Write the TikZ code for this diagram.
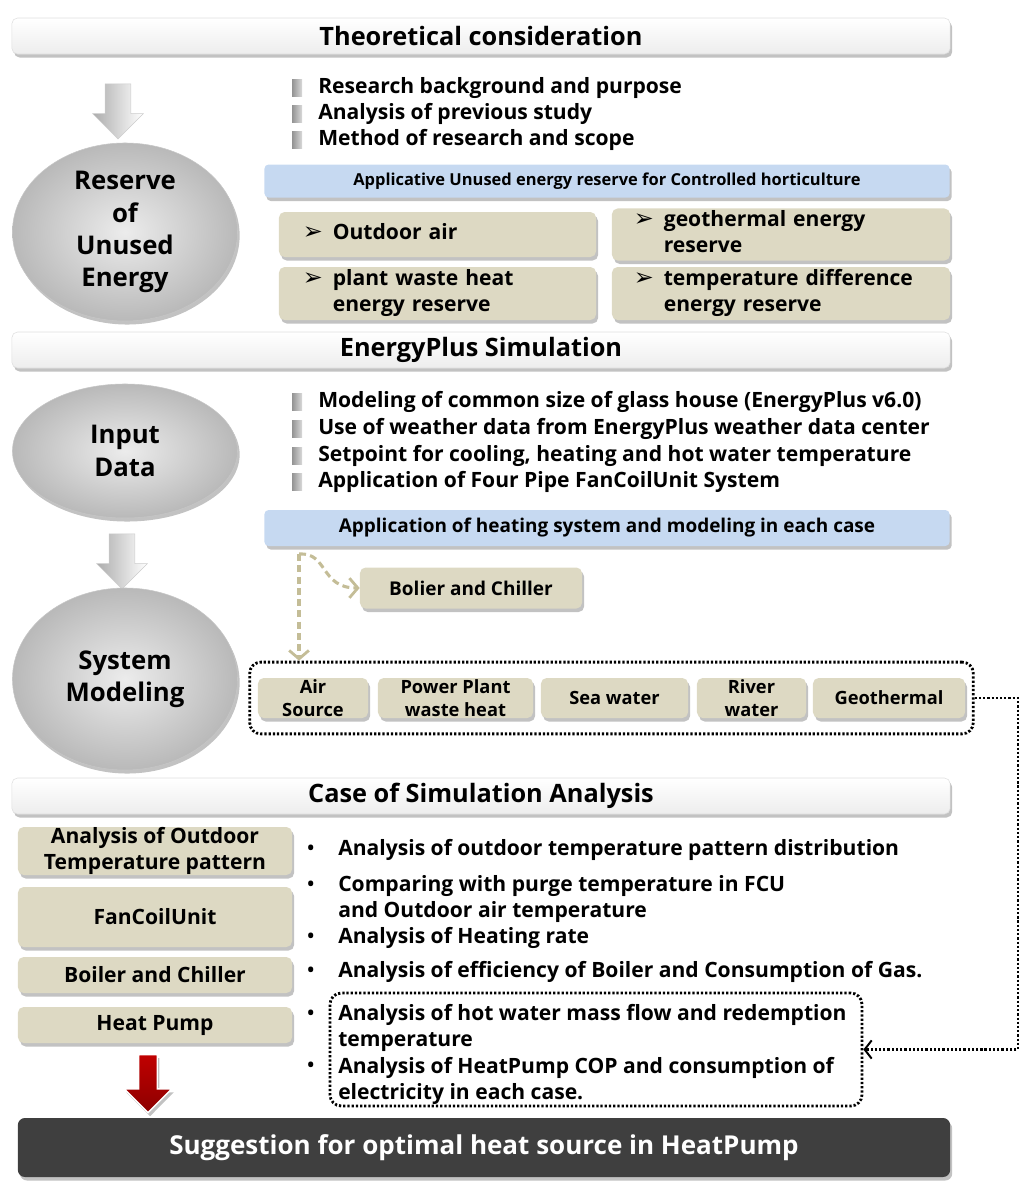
\documentclass[tikz,border=0pt]{standalone}
\usepackage{fontspec}
\setmainfont{Open Sans}
\newfontfamily\symfont{DejaVu Sans}
\usetikzlibrary{shapes.geometric,shapes.arrows,fit,shadows,arrows.meta}
\definecolor{tanfill}{HTML}{DDD9C3}
\definecolor{tanline}{HTML}{C4BD97}
\definecolor{bluefill}{HTML}{C6D9F1}
\definecolor{darkfill}{HTML}{3F3F3F}
\definecolor{arrowred}{HTML}{C00000}
\newcommand{\arritem}[1]{{\symfont\fontsize{17}{18.5}\selectfont\char"27A2}\hspace{7pt}\begin{tabular}[t]{@{}l@{}}#1\end{tabular}}
\tikzset{
	boxshadow/.style={drop shadow={shadow xshift=1.5pt,shadow yshift=-2.5pt,opacity=0.4,fill=black!60}},
	titlebar/.style={rounded corners=4pt,top color=white,bottom color=gray!14,draw=gray!25,boxshadow,
		minimum width=23.45cm,minimum height=0.9cm,inner sep=0pt,font=\fontsize{18}{21}\selectfont\bfseries},
	bluebar/.style={rounded corners=3pt,fill=bluefill,boxshadow,minimum width=17.125cm,inner sep=0pt},
	tanbox/.style={rounded corners=4pt,fill=tanfill,boxshadow,inner sep=0pt,font=\fontsize{15}{18.5}\selectfont\bfseries},
	stage/.style={ellipse,inner color=gray!15,outer color=gray!55,draw=gray!45,boxshadow,minimum width=5.625cm,
		inner sep=0pt,align=center,font=\fontsize{18.3}{22.9}\selectfont\bfseries},
	grayarrow/.style={single arrow,rotate=-90,left color=gray!65,right color=white,draw=gray!40,minimum width=1.25cm,
		minimum height=1.375cm,single arrow head extend=0.3125cm,single arrow head indent=0pt,inner xsep=0pt,inner ysep=0.3125cm},
	sqbullet/.style={rectangle,left color=gray!85,right color=gray!30,minimum width=0.25cm,minimum height=0.42cm,inner sep=0pt},
	itemtext/.style={anchor=west,inner sep=0pt,align=left,font=\fontsize{15}{18.5}\selectfont\bfseries},
	srcbox/.style={tanbox,minimum height=1cm,align=center,font=\fontsize{13}{16.4}\selectfont\bfseries},
	casebox/.style={tanbox,minimum width=6.85cm,align=center,font=\fontsize{15}{18.5}\selectfont\bfseries},
	dotbox/.style={draw,line width=2pt,dash pattern=on 1.6pt off 1.4pt,rounded corners=8pt,inner sep=0pt},
	dotconn/.style={line width=2pt,dash pattern=on 1.6pt off 1.4pt,-{Straight Barb[length=5pt,width=13pt,line width=1.4pt]}},
	tanconn/.style={draw=tanline,line width=2.2pt,dash pattern=on 5pt off 3pt,-{Straight Barb[length=6pt,width=14pt,line width=2pt]}}
}
\begin{document}
\begin{tikzpicture}[x=0.025cm,y=-0.025cm]
		\useasboundingbox (0,0) rectangle (1024,1193);
		%put the title bars
		\node[titlebar] (theory) at (481,36) {Theoretical consideration};
		\node[titlebar] (eplus) at (481,350) {EnergyPlus Simulation};
		\node[titlebar] (casesim) at (481,796) {Case of Simulation Analysis};
		%put the stages on the left
		\node[grayarrow] (arr1) at (118,105) {};
		\node[stage,minimum height=4.45cm] (reserve) at (125,232) {Reserve\\of\\Unused\\Energy};
		\node[stage,minimum height=3.35cm] (input) at (125,451) {Input\\Data};
		\node[grayarrow] (arr2) at (122,555) {};
		\node[stage,minimum height=4.55cm] (sysmod) at (125,679) {System\\Modeling};
		%theoretical items
		\foreach \t[count=\i] in {Research background and purpose,Analysis of previous study,Method of research and scope}{
			\node[sqbullet] (tb\i) at (297,62+26*\i) {};
			\node[itemtext] (tt\i) at (318,62+26*\i) {\t};
		}
		\node[bluebar,minimum height=0.825cm,font=\fontsize{11.7}{14}\selectfont\bfseries] (appunused) at (607,181)
			{Applicative Unused energy reserve for Controlled horticulture};
		\node[tanbox,minimum width=7.925cm,minimum height=1.125cm,inner xsep=0.6cm,text width=6.725cm,align=left] (outdoor) at (437.5,234.5) {\arritem{Outdoor air}};
		\node[tanbox,minimum width=8.45cm,minimum height=1.125cm,inner xsep=0.55cm,text width=7.35cm,align=left] (geo) at (781,234.5) {\arritem{geothermal energy\\reserve}};
		\node[tanbox,minimum width=7.925cm,minimum height=1.325cm,inner xsep=0.6cm,text width=6.725cm,align=left] (plant) at (437.5,293.5) {\arritem{plant waste heat\\energy reserve}};
		\node[tanbox,minimum width=8.45cm,minimum height=1.325cm,inner xsep=0.55cm,text width=7.35cm,align=left] (tempdiff) at (781,293.5) {\arritem{temperature difference\\energy reserve}};
		%simulation items
		\foreach \t[count=\i] in {Modeling of common size of glass house (EnergyPlus v6.0),Use of weather data from EnergyPlus weather data center,{Setpoint for cooling, heating and hot water temperature},Application of Four Pipe FanCoilUnit System}{
			\node[sqbullet] (sb\i) at (297,375.5+26.7*\i) {};
			\node[itemtext] (st\i) at (318,375.5+26.7*\i) {\t};
		}
		\node[bluebar,minimum height=0.9cm,font=\fontsize{13.5}{16}\selectfont\bfseries] (appheat) at (607,528)
			{Application of heating system and modeling in each case};
		\node[tanbox,minimum width=5.55cm,minimum height=1.025cm,font=\fontsize{13.5}{16}\selectfont\bfseries] (bolier) at (471,588) {Bolier and Chiller};
		%heat sources
		\node[srcbox,minimum width=2.75cm] (air) at (313,698) {Air\\Source};
		\node[srcbox,minimum width=3.875cm] (power) at (455.5,698) {Power Plant\\waste heat};
		\node[srcbox,minimum width=3.675cm] (sea) at (614.5,698) {Sea water};
		\node[srcbox,minimum width=2.725cm] (river) at (751.5,698) {River\\water};
		\node[srcbox,minimum width=3.8cm] (geotherm) at (889,698) {Geothermal};
		\node[dotbox,fit=(air) (geotherm),inner xsep=0.2cm,inner ysep=0.39cm] (srcfit) {};
		\coordinate (dstart) at (299,554);
		\draw[tanconn] (dstart) -- (dstart |- srcfit.north);
		\draw[tanconn] (dstart) .. controls (328,552) and (320,588) .. (bolier.west);
		%case of simulation analysis
		\node[casebox,minimum height=1.2cm] (caseout) at (155,851) {Analysis of Outdoor\\Temperature pattern};
		\node[casebox,minimum height=1.5cm] (casefcu) at (155,917) {FanCoilUnit};
		\node[casebox,minimum height=0.9cm] (caseboil) at (155,975) {Boiler and Chiller};
		\node[casebox,minimum height=0.9cm] (casehp) at (155,1025) {Heat Pump};
		\foreach \y[count=\i] in {850,886,938,972,1015,1067}{
			\node[itemtext,font=\fontsize{13}{18.5}\selectfont\bfseries] (cb\i) at (307,\y) {•};
		}
		\node[itemtext] (ct1) at (338,850) {Analysis of outdoor temperature pattern distribution};
		\node[itemtext] (ct2) at (338,899) {Comparing with purge temperature in FCU\\and Outdoor air temperature};
		\node[itemtext] (ct3) at (338,938) {Analysis of Heating rate};
		\node[itemtext] (ct4) at (338,972) {Analysis of efficiency of Boiler and Consumption of Gas.};
		\node[itemtext] (ct5) at (338,1028) {Analysis of hot water mass flow and redemption\\temperature};
		\node[itemtext] (ct6) at (338,1080.5) {Analysis of HeatPump COP and consumption of\\electricity in each case.};
		\node[dotbox,fit={(330,993) (862,1106)}] (hpfit) {};
		\coordinate (rturn) at (1018,0);
		\draw[dotconn] (srcfit.east) -- (srcfit.east -| rturn) |- (hpfit.east);
		%result
		\node[single arrow,rotate=-90,top color=arrowred,bottom color=red!55!black,draw=white,line width=1pt,boxshadow,
			minimum width=1.15cm,minimum height=1.45cm,single arrow head extend=0.3625cm,single arrow head indent=0pt,
			inner xsep=0pt,inner ysep=0.2125cm] (arrred) at (148,1079) {};
		\node[rounded corners=5pt,fill=darkfill,boxshadow,minimum width=23.3cm,minimum height=1.475cm,text=white,
			font=\fontsize{18.5}{22}\selectfont\bfseries] (suggest) at (484,1147.5) {Suggestion for optimal heat source in HeatPump};
		\end{tikzpicture}
\end{document}
